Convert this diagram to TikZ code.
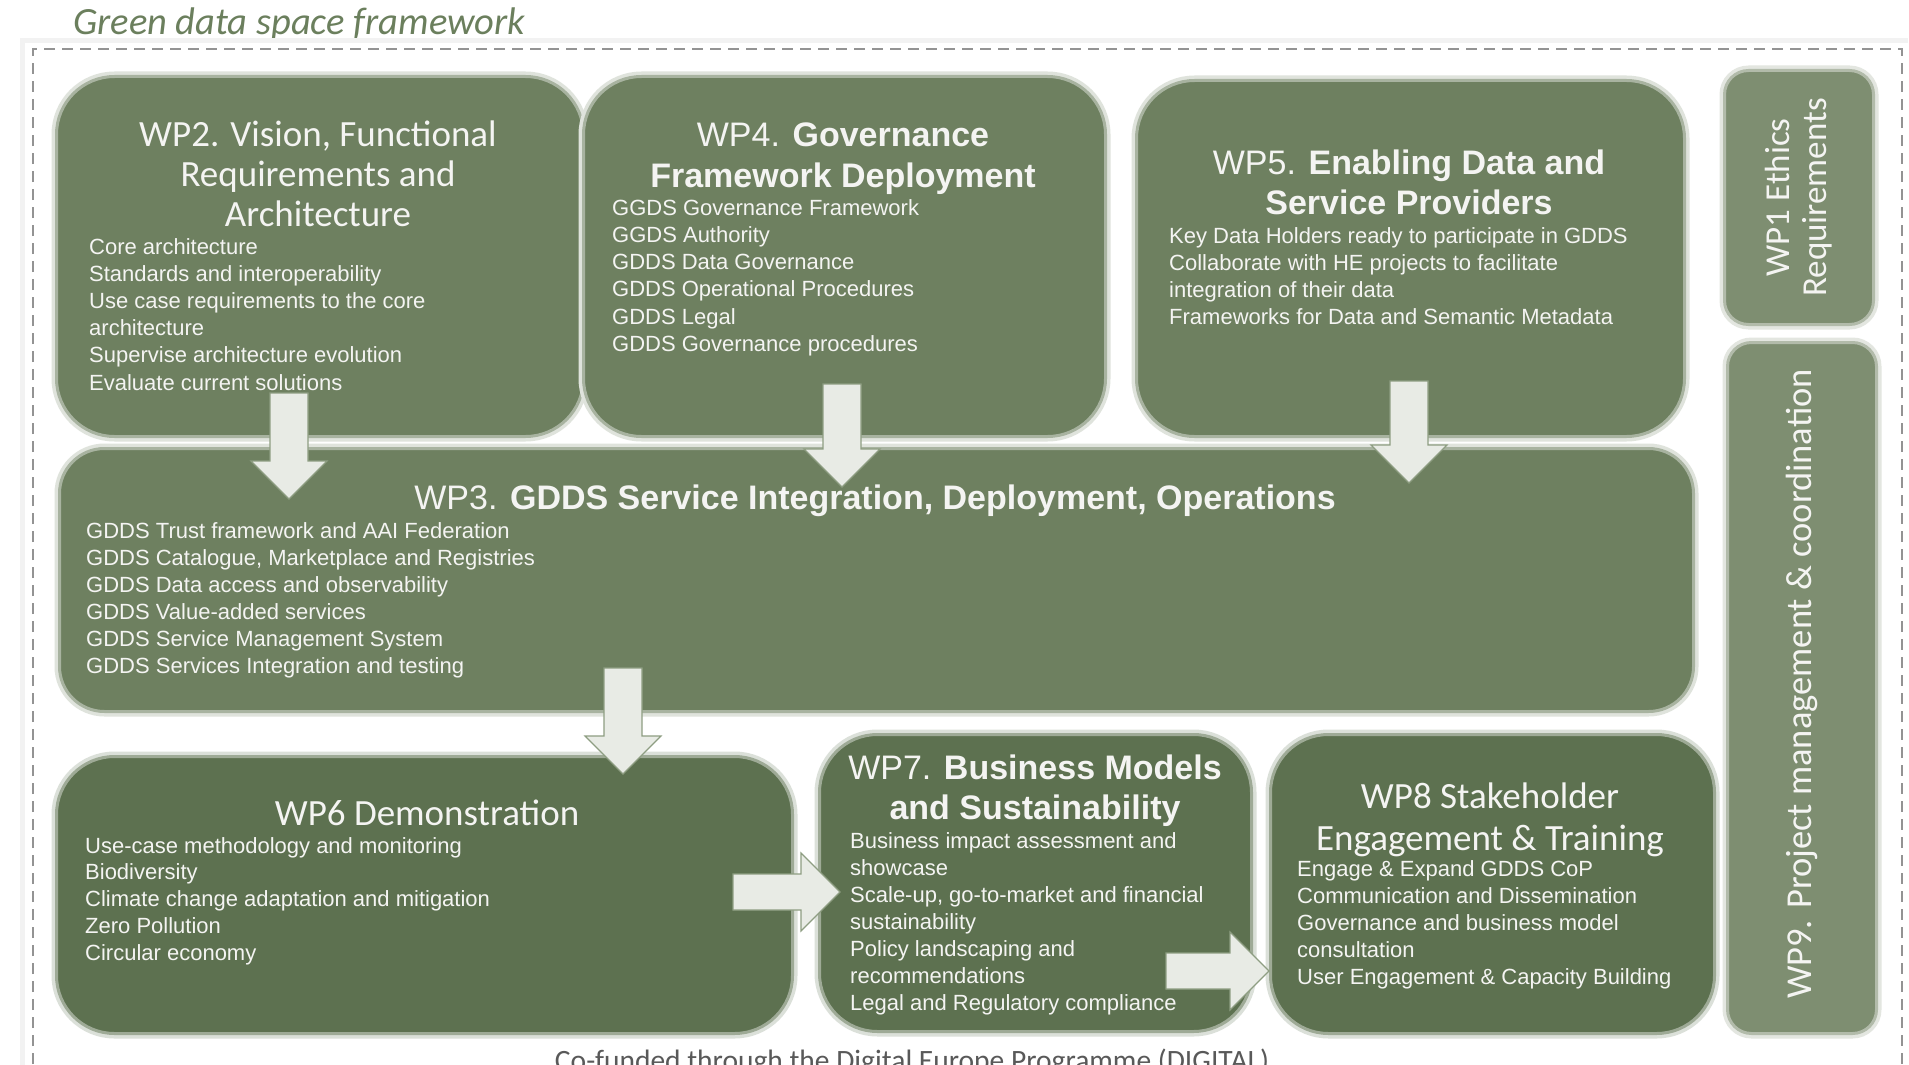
\documentclass[tikz,border=0pt]{standalone}
\usepackage{fontspec}
\setmainfont{Liberation Sans}
\newfontfamily\calfont{Carlito}
\usetikzlibrary{calc}
\definecolor{gA}{HTML}{6E8060}
\definecolor{gB}{HTML}{5D7150}
\definecolor{gC}{HTML}{7E8E71}
\definecolor{arrowc}{HTML}{E8EBE5}
\definecolor{arrowedge}{HTML}{8E9E82}
\definecolor{titlec}{HTML}{6B7F5D}
\definecolor{txt}{HTML}{F4F4F2}
\definecolor{capc}{HTML}{595959}
\tikzset{
  glowbox/.style={draw=#1!60!white, line width=3pt, fill=#1, inner sep=0pt, anchor=north west,
    preaction={draw=#1!22!white, line width=10pt}},
  body/.style={font=\fontsize{22}{26}\selectfont, text=txt, inner sep=0pt, anchor=base west},
  hcal/.style={font=\calfont\fontsize{37}{40}\selectfont, text=txt, inner sep=0pt, anchor=base},
  harial/.style={font=\fontsize{34}{40}\selectfont, text=txt, inner sep=0pt, anchor=base},
  arrowst/.style={fill=arrowc, draw=arrowedge, line width=1.2pt, line join=miter},
  framest/.style={draw=gray!85, line width=1.8pt, dash pattern=on 11pt off 7pt}
}
\newcommand\downblk[2]{\draw[arrowst] ($(#1)+(-19,0)$) -- ($(#2)+(-19,-38)$) -- ($(#2)+(-38,-38)$) -- (#2) -- ($(#2)+(38,-38)$) -- ($(#2)+(19,-38)$) -- ($(#1)+(19,0)$) -- cycle;}
\newcommand\rightblk[2]{\draw[arrowst] ($(#1)+(0,-18)$) -- ($(#2)+(-39,-18)$) -- ($(#2)+(-39,-39)$) -- (#2) -- ($(#2)+(-39,39)$) -- ($(#2)+(-39,18)$) -- ($(#1)+(0,18)$) -- cycle;}
\begin{document}
\begin{tikzpicture}[x=1pt,y=-1pt]
\useasboundingbox (0,0) rectangle (1909,1065);
\clip (0,0) rectangle (1909,1065);
\fill[white] (0,0) rectangle (1909,1065);
% title and frame
\node[font=\calfont\itshape\fontsize{38.5}{42}\selectfont, text=titlec, inner sep=0pt, anchor=base west] (title) at (73,35) {Green data space framework};
\draw[gray!10, line width=5pt] (22,1100) -- (22,41) -- (1908,41);
\draw[framest] (33,1100) -- (33,49) -- (1902,49) -- (1902,1100);
% boxes
\node[glowbox=gA, rounded corners=58pt, minimum width=527pt, minimum height=360pt] (wp2) at (55,75) {};
\node[glowbox=gA, rounded corners=58pt, minimum width=522pt, minimum height=360pt] (wp4) at (582,75) {};
\node[glowbox=gA, rounded corners=58pt, minimum width=548pt, minimum height=356pt] (wp5) at (1135,79) {};
\node[glowbox=gA, rounded corners=45pt, minimum width=1634pt, minimum height=263pt] (wp3) at (58,447) {};
\node[glowbox=gB, rounded corners=58pt, minimum width=736pt, minimum height=277pt] (wp6) at (55,755) {};
\node[glowbox=gB, rounded corners=58pt, minimum width=432pt, minimum height=297pt] (wp7) at (818,733) {};
\node[glowbox=gB, rounded corners=58pt, minimum width=444pt, minimum height=299pt] (wp8) at (1269,733) {};
\node[glowbox=gC, rounded corners=24pt, minimum width=149pt, minimum height=254pt] (wp1) at (1723,69) {};
\node[glowbox=gC, rounded corners=24pt, minimum width=149pt, minimum height=691pt] (wp9) at (1726,341) {};
% WP2
\node[hcal] (wp2h1) at (318,146) {WP2. Vision, Functional};
\node[hcal] (wp2h2) at (318,186) {Requirements and};
\node[hcal] (wp2h3) at (318,226) {Architecture};
\foreach \t [count=\i from 0] in {Core architecture, Standards and interoperability, Use case requirements to the core, architecture, Supervise architecture evolution, Evaluate current solutions}
  \node[body] (wp2b\i) at (89,{254+27.2*\i}) {\t};
% WP4
\node[harial] (wp4h1) at (843,146) {WP4. \textbf{Governance}};
\node[harial] (wp4h2) at (843,187) {\textbf{Framework Deployment}};
\foreach \t [count=\i from 0] in {GGDS Governance Framework, GGDS Authority, GDDS Data Governance, GDDS Operational Procedures, GDDS Legal, GDDS Governance procedures}
  \node[body] (wp4b\i) at (612,{215+27.3*\i}) {\t};
% WP5
\node[harial] (wp5h1) at (1409,174) {WP5. \textbf{Enabling Data and}};
\node[harial] (wp5h2) at (1409,214) {\textbf{Service Providers}};
\foreach \t [count=\i from 0] in {Key Data Holders ready to participate in GDDS, Collaborate with HE projects to facilitate, integration of their data, Frameworks for Data and Semantic Metadata}
  \node[body] (wp5b\i) at (1169,{243+27.3*\i}) {\t};
% WP3
\node[harial] (wp3h) at (875,509) {WP3. \textbf{GDDS Service Integration, Deployment, Operations}};
\foreach \t [count=\i from 0] in {GDDS Trust framework and AAI Federation, {GDDS Catalogue, Marketplace and Registries}, GDDS Data access and observability, GDDS Value-added services, GDDS Service Management System, GDDS Services Integration and testing}
  \node[body] (wp3b\i) at (86,{538+27*\i}) {\t};
% WP6
\node[hcal] (wp6h) at (427,825) {WP6 Demonstration};
\foreach \t [count=\i from 0] in {Use-case methodology and monitoring, Biodiversity, Climate change adaptation and mitigation, Zero Pollution, Circular economy}
  \node[body] (wp6b\i) at (85,{853+26.8*\i}) {\t};
% WP7
\node[harial] (wp7h1) at (1035,779) {WP7. \textbf{Business Models}};
\node[harial] (wp7h2) at (1035,819) {\textbf{and Sustainability}};
\foreach \t [count=\i from 0] in {Business impact assessment and, showcase, {Scale-up, go-to-market and financial}, sustainability, Policy landscaping and, recommendations, Legal and Regulatory compliance}
  \node[body] (wp7b\i) at (850,{848+27*\i}) {\t};
% WP8
\node[hcal] (wp8h1) at (1490,808) {WP8 Stakeholder};
\node[hcal] (wp8h2) at (1490,850) {Engagement \& Training};
\foreach \t [count=\i from 0] in {Engage \& Expand GDDS CoP, Communication and Dissemination, Governance and business model, consultation, User Engagement \& Capacity Building}
  \node[body] (wp8b\i) at (1297,{876+27.2*\i}) {\t};
% WP1 / WP9
\node[font=\calfont\fontsize{35}{37}\selectfont, text=txt, align=center, rotate=90, inner sep=0pt] (wp1t) at (wp1.center) {WP1 Ethics\\Requirements};
\node[font=\calfont\fontsize{36.5}{38}\selectfont, text=txt, rotate=90, inner sep=0pt] (wp9t) at ($(wp9.center)+(0,-4)$) {WP9. Project management \& coordination};
% caption
\node[font=\calfont\fontsize{29.5}{32}\selectfont, text=capc, inner sep=0pt, anchor=base] (cap) at (912,1070) {Co-funded through the Digital Europe Programme (DIGITAL)};
% arrows
\coordinate (a1s) at (289,393); \coordinate (a1t) at (289,499);
\coordinate (a2s) at (842,384); \coordinate (a2t) at (842,487);
\coordinate (a3s) at (1409,381); \coordinate (a3t) at (1409,483);
\coordinate (a4s) at (623,668); \coordinate (a4t) at (623,774);
\coordinate (a5s) at (733,892); \coordinate (a5t) at (840,892);
\coordinate (a6s) at (1166,971); \coordinate (a6t) at (1269,971);
\downblk{a1s}{a1t}
\downblk{a2s}{a2t}
\downblk{a3s}{a3t}
\downblk{a4s}{a4t}
\rightblk{a5s}{a5t}
\rightblk{a6s}{a6t}
\end{tikzpicture}
\end{document}
